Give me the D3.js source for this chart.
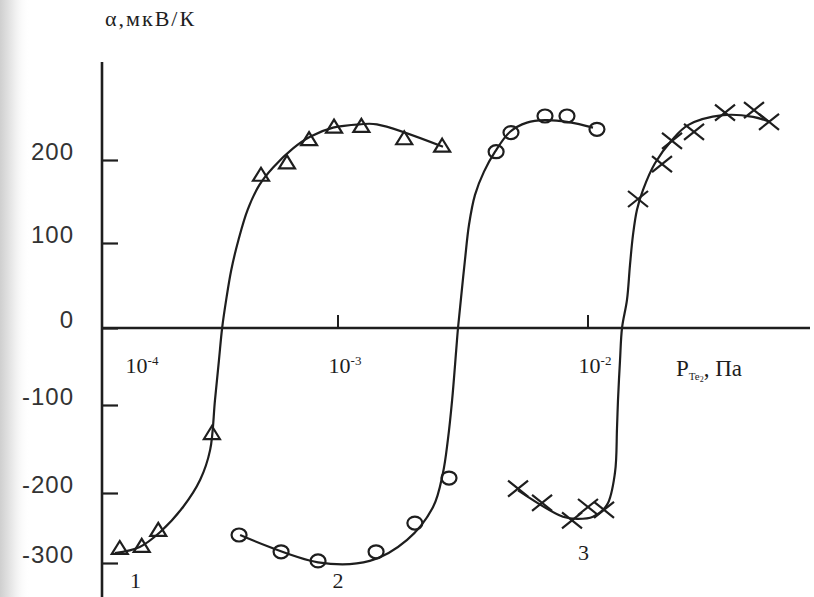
<!DOCTYPE html>
<html>
<head>
<meta charset="utf-8">
<script src="https://cdn.jsdelivr.net/npm/d3@7"></script>
<style>
  html, body { margin: 0; padding: 0; background: #fff; }
  svg { display: block; }
</style>
</head>
<body>
<svg id="chart" width="814" height="597"></svg>
<script>
// Thermo-EMF α (µV/K) versus Te2 vapour pressure (Pa), three samples.

// measured points, [pressure Pa, α µV/K]
const series1Points = [
  [1.34e-4, -280], [1.64e-4, -277], [1.91e-4, -254], [3.13e-4, -133],
  [4.92e-4, 181], [6.25e-4, 196], [7.66e-4, 224], [9.64e-4, 239],
  [1.24e-3, 240], [1.84e-3, 225], [2.61e-3, 216]
];
const series2Points = [
  [4.02e-4, -260], [5.92e-4, -284], [8.32e-4, -297], [1.42e-3, -284],
  [2.03e-3, -243], [2.78e-3, -183], [4.29e-3, 210], [4.92e-3, 233],
  [6.73e-3, 253], [8.24e-3, 253], [1.086e-2, 237]
];
const series3Points = [
  [5.25e-3, -195], [6.55e-3, -214], [8.63e-3, -239], [1.0e-2, -220],
  [1.159e-2, -224], [1.585e-2, 153], [1.977e-2, 195], [2.168e-2, 223],
  [2.655e-2, 234], [3.532e-2, 257], [4.613e-2, 260], [5.297e-2, 246]
];

// hand-drawn trend curves through each set
const series1Curve = [
  [1.28e-4, -286], [1.61e-4, -277], [1.94e-4, -256], [2.40e-4, -220],
  [2.81e-4, -185], [3.08e-4, -151], [3.22e-4, -94], [3.34e-4, -42],
  [3.44e-4, 0], [3.57e-4, 33], [3.74e-4, 68], [4.0e-4, 104],
  [4.35e-4, 140], [4.85e-4, 170], [5.5e-4, 191], [6.61e-4, 214],
  [7.73e-4, 228], [9.55e-4, 239], [1.22e-3, 243], [1.43e-3, 243],
  [2.63e-3, 216]
];
const series2Curve = [
  [4.06e-4, -260], [8.32e-4, -299], [1.34e-3, -297], [1.89e-3, -267],
  [2.40e-3, -220], [2.63e-3, -177], [2.75e-3, -140], [2.86e-3, -94],
  [2.97e-3, -29], [3.02e-3, 0], [3.10e-3, 33], [3.22e-3, 80],
  [3.342e-3, 122], [3.532e-3, 158], [3.837e-3, 186], [4.25e-3, 210],
  [4.88e-3, 234], [5.70e-3, 245], [6.73e-3, 248], [8.24e-3, 246],
  [1.047e-2, 239]
];
const series3Curve = [
  [5.25e-3, -197], [7.94e-3, -234], [9.04e-3, -237], [1.047e-2, -234],
  [1.191e-2, -217], [1.282e-2, -177], [1.306e-2, -127], [1.318e-2, -94],
  [1.343e-2, -42], [1.368e-2, 0], [1.432e-2, 33], [1.472e-2, 74],
  [1.514e-2, 110], [1.570e-2, 140], [1.660e-2, 164], [1.853e-2, 196],
  [2.168e-2, 224], [2.512e-2, 242], [3.467e-2, 254], [4.571e-2, 252],
  [5.346e-2, 246]
];

const yTickValues = [-300, -200, -100, 0, 100, 200];
const xTickValues = [1e-4, 1e-3, 1e-2];
const xTickExponents = ["-4", "-3", "-2"];
const curveNames = ["1", "2", "3"];
const curveNameAnchors = [[1.55e-4, -335], [1.0e-3, -335], [9.6e-3, -295]];

const svg = d3.select("#chart");
const ink = "#1e1e1e";

// soft grey shading along the left margin of the sheet
const defs = svg.append("defs");
const grad = defs.append("linearGradient").attr("id", "edge").attr("x1", 0).attr("x2", 1);
grad.append("stop").attr("offset", 0).attr("stop-color", "#cfcfcf");
grad.append("stop").attr("offset", 0.5).attr("stop-color", "#efefef");
grad.append("stop").attr("offset", 1).attr("stop-color", "#ffffff").attr("stop-opacity", 0);
svg.append("rect").attr("x", 0).attr("y", 0).attr("width", 30).attr("height", 597).attr("fill", "url(#edge)");

const axisX = 102;
const x = d3.scaleLog().domain([1e-3, 1e-2]).range([338, 588]);
// the printed vertical axis is not evenly spaced; follow its tick marks
const y = d3.scaleLinear()
  .domain([-300, -200, -100, 0, 100, 200])
  .range([563, 493, 405, 328, 243, 160]);

// y axis
const yAxis = d3.axisLeft(y).tickValues(yTickValues).tickSize(-16).tickPadding(28)
  .tickFormat(d => String(d));
const gy = svg.append("g").attr("transform", `translate(${axisX},0)`).call(yAxis);
gy.select(".domain").remove();
gy.selectAll(".tick line").attr("stroke", ink).attr("stroke-width", 2.2);
gy.selectAll(".tick text")
  .attr("y", -8)
  .attr("fill", "#333")
  .style("font-family", "'Liberation Sans', Arial, sans-serif")
  .style("font-size", "24px")
  .style("letter-spacing", "1px");
svg.append("line")
  .attr("x1", axisX).attr("x2", axisX).attr("y1", 62).attr("y2", 597)
  .attr("stroke", ink).attr("stroke-width", 2.6);

// x axis along α = 0
svg.append("line")
  .attr("x1", axisX).attr("x2", 810).attr("y1", y(0)).attr("y2", y(0))
  .attr("stroke", ink).attr("stroke-width", 2.6);
const xt = svg.append("g");
xTickValues.forEach((v, i) => {
  const px = x(v);
  if (px > axisX + 5) {
    xt.append("line").attr("x1", px).attr("x2", px)
      .attr("y1", y(0)).attr("y2", y(0) - 13)
      .attr("stroke", ink).attr("stroke-width", 2);
  }
  const t = xt.append("text")
    .attr("x", Math.max(px + 7, axisX + 40)).attr("y", y(0) + 45)
    .attr("text-anchor", "middle")
    .attr("fill", ink)
    .style("font-family", "'Liberation Serif', 'Times New Roman', serif")
    .style("font-size", "22px");
  t.append("tspan").text("10");
  t.append("tspan").attr("dy", -8).style("font-size", "13px").text(xTickExponents[i]);
});

// x axis title P_Te2, Па
const xl = svg.append("text")
  .attr("x", 676).attr("y", y(0) + 48)
  .attr("fill", ink)
  .style("font-family", "'Liberation Serif', 'Times New Roman', serif")
  .style("font-size", "23px");
xl.append("tspan").text("P");
xl.append("tspan").attr("dy", 4).style("font-size", "11px").text("Te");
xl.append("tspan").attr("dy", 2).style("font-size", "8px").text("2");
xl.append("tspan").attr("dy", -6).text(", Па");

// y axis title
svg.append("text")
  .attr("x", 105).attr("y", 26)
  .attr("fill", ink)
  .style("font-family", "'Liberation Serif', 'Times New Roman', serif")
  .style("font-size", "22px")
  .style("letter-spacing", "2px")
  .text("α,мкВ/К");

// trend curves
const line = d3.line().x(d => x(d[0])).y(d => y(d[1])).curve(d3.curveCatmullRom.alpha(0.5));
[series1Curve, series2Curve, series3Curve].forEach(c => {
  svg.append("path").datum(c).attr("d", line)
    .attr("fill", "none").attr("stroke", ink).attr("stroke-width", 2.2);
});

// markers
const marks = svg.append("g").attr("fill", "none").attr("stroke", ink).attr("stroke-width", 2.2);
marks.selectAll("path.tri").data(series1Points).join("path")
  .attr("class", "tri")
  .attr("d", d => {
    const cx = x(d[0]), cy = y(d[1]);
    return `M${cx},${cy - 8}L${cx + 8},${cy + 5}L${cx - 8},${cy + 5}Z`;
  });
marks.selectAll("ellipse").data(series2Points).join("ellipse")
  .attr("cx", d => x(d[0])).attr("cy", d => y(d[1]))
  .attr("rx", 7.5).attr("ry", 6.5);
marks.selectAll("path.cross").data(series3Points).join("path")
  .attr("class", "cross")
  .attr("d", d => {
    const cx = x(d[0]), cy = y(d[1]);
    return `M${cx - 10},${cy - 8}L${cx + 10},${cy + 8}M${cx + 10},${cy - 8}L${cx - 10},${cy + 8}`;
  });

// curve numbers
svg.append("g").selectAll("text").data(curveNames).join("text")
  .attr("x", (d, i) => x(curveNameAnchors[i][0]))
  .attr("y", (d, i) => y(curveNameAnchors[i][1]))
  .attr("text-anchor", "middle")
  .attr("fill", ink)
  .style("font-family", "'Liberation Serif', 'Times New Roman', serif")
  .style("font-size", "22px")
  .text(d => d);
</script>
</body>
</html>
